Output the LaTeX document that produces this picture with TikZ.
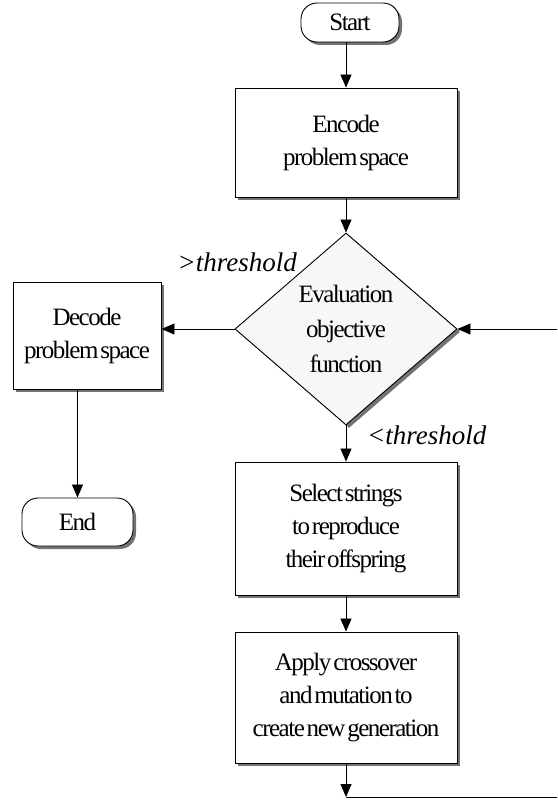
\documentclass[tikz,border=0pt]{standalone}
\usepackage{fontspec}
\setmainfont{Liberation Serif}
\newfontfamily\boxfont[LetterSpace=-6,WordSpace=0.4]{Liberation Serif}
\usetikzlibrary{shapes.geometric,shadows,arrows.meta}
\begin{document}
\begin{tikzpicture}[x=1pt,y=-1pt,
  shad/.style={drop shadow={shadow xshift=3pt,shadow yshift=-3pt,fill=black!55,opacity=1}},
  box/.style={draw,line width=0.9pt,fill=white,shad,align=center,inner sep=0pt,
    font=\boxfont\fontsize{25}{33}\selectfont},
  term/.style={box,rounded corners=16pt},
  dec/.style={box,diamond,fill=black!3,minimum width=222pt,minimum height=192pt,
    drop shadow={shadow xshift=3pt,shadow yshift=-2pt,fill=black!55,opacity=1}},
  conn/.style={line width=0.8pt,-{Triangle[length=13pt,width=11pt]}},
  lbl/.style={font=\itshape\fontsize{27}{30}\selectfont,inner sep=0pt}]
\useasboundingbox (0,0) rectangle (557,805);
\clip (0,0) rectangle (557,805);
\node[term,minimum width=98pt,minimum height=39pt] (start) at (350,22.5) {Start};
\node[box,minimum width=222pt,minimum height=109pt] (encode) at (346,142.5) {Encode\\problem space};
\node[dec] (eval) at (346,329) {Evaluation\\[2pt]objective\\[2pt]function};
\node[box,minimum width=148pt,minimum height=107pt] (decode) at (87,335.5) {Decode\\problem space};
\node[term,minimum width=111pt,minimum height=48pt] (end) at (77.5,522) {End};
\node[box,minimum width=222pt,minimum height=133pt] (select) at (346,528.5) {Select strings\\to reproduce\\their offspring};
\node[box,minimum width=222pt,minimum height=131pt] (apply) at (346,697.5) {Apply crossover\\and mutation to\\create new generation};
\node[lbl,anchor=east] (gt) at (297,262) {>threshold};
\node[lbl,anchor=west] (lt) at (367,435) {<threshold};
\coordinate (loopA) at (346,797);
\coordinate (loopB) at (562,797);
\coordinate (loopC) at (562,329);
\draw[conn] (start.south -| encode.north) -- (encode.north);
\draw[conn] (encode.south) -- (eval.north);
\draw[conn] (eval.west) -- (eval.west -| decode.east);
\draw[conn] (decode.south -| end.north) -- (end.north);
\draw[conn] (eval.south) -- (select.north);
\draw[conn] (select.south) -- (apply.north);
\draw[conn] (apply.south) -- (loopA);
\draw[conn] (loopA) -- (loopB) -- (loopC) -- (eval.east);
\end{tikzpicture}
\end{document}
